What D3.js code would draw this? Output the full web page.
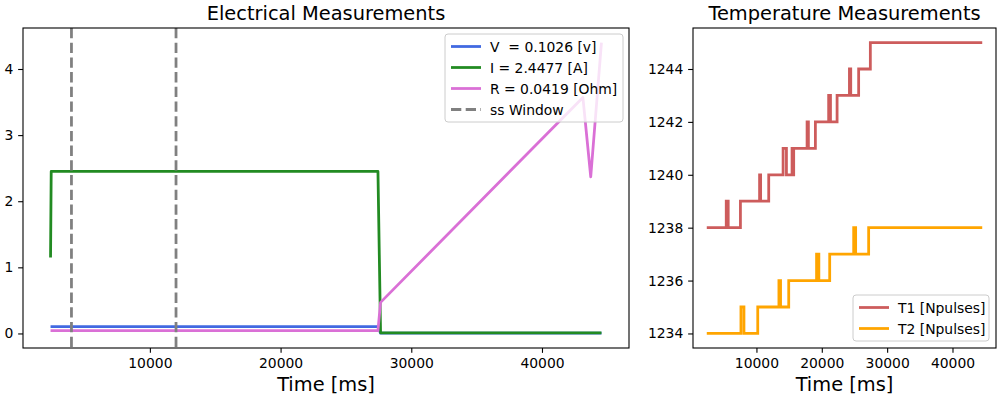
<!DOCTYPE html>
<html>
<head>
<meta charset="utf-8">
<script src="https://cdn.jsdelivr.net/npm/d3@7"></script>
<style>
  body { margin: 0; background: #fff; }
  svg { display: block; font-family: "DejaVu Sans", sans-serif; }
</style>
</head>
<body>
<svg id="chart" width="1000" height="400"></svg>
<script>
// Electrical series (time in ms)
const elecTime   = [2400, 2450, 27450, 27650, 43130, 43730, 44550];
const voltage    = [0.1026, 0.1026, 0.1026, 0.004, 0.004, 0.004, 0.004];
const current    = [1.15, 2.45, 2.45, 0.01, 0.01, 0.01, 0.01];
const resistance = [0.042, 0.042, 0.042, 0.47, 3.57, 2.37, 4.40];
const ssWindow   = [4000, 12000];
const elecLabels = ["V  = 0.1026 [v]", "I = 2.4477 [A]", "R = 0.0419 [Ohm]", "ss Window"];

// Temperature series: change points, value holds until next time
const t1Time = [2400, 5380, 5680, 7550, 10480, 10640, 11880, 14080, 14590, 15450, 15570, 15700,
                17750, 17950, 19020, 21050, 21330, 22340, 24230, 24430, 25640, 27430, 44550];
const t1Vals = [1238, 1239, 1238, 1239, 1240, 1239, 1240, 1241, 1240, 1241, 1240, 1241,
                1242, 1241, 1242, 1243, 1242, 1243, 1244, 1243, 1244, 1245, 1245];
const t2Time = [2400, 7630, 8090, 10200, 13440, 13690, 14940, 19200, 19550, 21210, 24880, 25180, 27170, 44550];
const t2Vals = [1234, 1235, 1234, 1235, 1236, 1235, 1236, 1237, 1236, 1237, 1238, 1237, 1238, 1238];
const tempLabels = ["T1 [Npulses]", "T2 [Npulses]"];

// Tick values
const xTicks = [10000, 20000, 30000, 40000];
const elecYTicks = [0, 1, 2, 3, 4];
const tempYTicks = [1234, 1236, 1238, 1240, 1242, 1244];

const svg = d3.select("#chart");
const lw = 2.78;       // 2pt lines
const tickLen = 4.86;  // 3.5pt ticks

// pad an extent by 5% like matplotlib autoscale
function padded(values) {
    const [lo, hi] = d3.extent(values);
    const m = (hi - lo) * 0.05;
    return [lo - m, hi + m];
}

function makePanel(box, xDomain, yDomain, yTicks, title) {
    const x = d3.scaleLinear().domain(xDomain).range([box.x0, box.x1]);
    const y = d3.scaleLinear().domain(yDomain).range([box.y1, box.y0]);
    const g = svg.append("g");

    const xAxis = g.append("g")
        .attr("transform", `translate(0,${box.y1})`)
        .call(d3.axisBottom(x).tickValues(xTicks).tickFormat(d3.format("d"))
            .tickSize(tickLen).tickPadding(4.86));
    const yAxis = g.append("g")
        .attr("transform", `translate(${box.x0},0)`)
        .call(d3.axisLeft(y).tickValues(yTicks).tickFormat(d3.format("d"))
            .tickSize(tickLen).tickPadding(4.86));
    [xAxis, yAxis].forEach(a => {
        a.select(".domain").remove();
        a.attr("font-family", "DejaVu Sans").attr("font-size", 13.9);
        a.selectAll("line").attr("stroke", "#000").attr("stroke-width", 1.1);
        a.selectAll("text").attr("fill", "#000");
    });

    g.append("text")
        .attr("x", (box.x0 + box.x1) / 2).attr("y", 20)
        .attr("text-anchor", "middle").attr("font-size", 19.4)
        .text(title);
    g.append("text")
        .attr("x", (box.x0 + box.x1) / 2).attr("y", 391)
        .attr("text-anchor", "middle").attr("font-size", 19.4)
        .text("Time [ms]");

    return { x, y, g };
}

function drawFrame(g, box) {
    g.append("rect")
        .attr("x", box.x0).attr("y", box.y0)
        .attr("width", box.x1 - box.x0).attr("height", box.y1 - box.y0)
        .attr("fill", "none").attr("stroke", "#000").attr("stroke-width", 1.1);
}

function drawLegend(g, lx, ly, w, h, entries) {
    const lg = g.append("g");
    lg.append("rect")
        .attr("x", lx).attr("y", ly).attr("width", w).attr("height", h)
        .attr("rx", 3).attr("fill", "#fff").attr("fill-opacity", 0.8)
        .attr("stroke", "#cccccc").attr("stroke-width", 1);
    entries.forEach((e, i) => {
        const cy = ly + 12.5 + i * 21;
        lg.append("line")
            .attr("x1", lx + 6).attr("x2", lx + 36).attr("y1", cy).attr("y2", cy)
            .attr("stroke", e.color).attr("stroke-width", lw)
            .attr("stroke-dasharray", e.dash || null);
        lg.append("text")
            .attr("x", lx + 45).attr("y", cy)
            .attr("dominant-baseline", "central")
            .attr("font-size", 13.9)
            .style("white-space", "pre")
            .text(e.label);
    });
}

// ---- Electrical panel ----
const elecBox = { x0: 23, x1: 629, y0: 28, y1: 348 };
const elec = makePanel(elecBox, padded(elecTime),
    padded([0, d3.max(resistance)]), elecYTicks, "Electrical Measurements");

const elecLine = vals => d3.line()
    .x((d, i) => elec.x(elecTime[i]))
    .y(d => elec.y(d))(vals);

[[voltage, "royalblue"], [current, "forestgreen"], [resistance, "orchid"]].forEach(([vals, color]) => {
    elec.g.append("path")
        .attr("d", elecLine(vals))
        .attr("fill", "none").attr("stroke", color)
        .attr("stroke-width", lw).attr("stroke-linejoin", "round");
});

elec.g.selectAll(".ss").data(ssWindow).enter().append("line")
    .attr("x1", d => elec.x(d)).attr("x2", d => elec.x(d))
    .attr("y1", elecBox.y0).attr("y2", elecBox.y1)
    .attr("stroke", "gray").attr("stroke-width", lw)
    .attr("stroke-dasharray", "10.3,4.4");

drawFrame(elec.g, elecBox);
drawLegend(elec.g, 445, 34, 178, 88, [
    { label: elecLabels[0], color: "royalblue" },
    { label: elecLabels[1], color: "forestgreen" },
    { label: elecLabels[2], color: "orchid" },
    { label: elecLabels[3], color: "gray", dash: "10.3,4.4" }
]);

// ---- Temperature panel ----
const tempBox = { x0: 693, x1: 996, y0: 28, y1: 348 };
const temp = makePanel(tempBox, padded(t1Time.concat(t2Time)),
    padded(t1Vals.concat(t2Vals)), tempYTicks, "Temperature Measurements");

const stepLine = (times, vals) => d3.line()
    .curve(d3.curveStepAfter)
    .x((d, i) => temp.x(times[i]))
    .y(d => temp.y(d))(vals);

[[t1Time, t1Vals, "indianred"], [t2Time, t2Vals, "orange"]].forEach(([times, vals, color]) => {
    temp.g.append("path")
        .attr("d", stepLine(times, vals))
        .attr("fill", "none").attr("stroke", color)
        .attr("stroke-width", lw).attr("stroke-linejoin", "miter");
});

drawFrame(temp.g, tempBox);
drawLegend(temp.g, 853, 295, 136, 46, [
    { label: tempLabels[0], color: "indianred" },
    { label: tempLabels[1], color: "orange" }
]);
</script>
</body>
</html>
